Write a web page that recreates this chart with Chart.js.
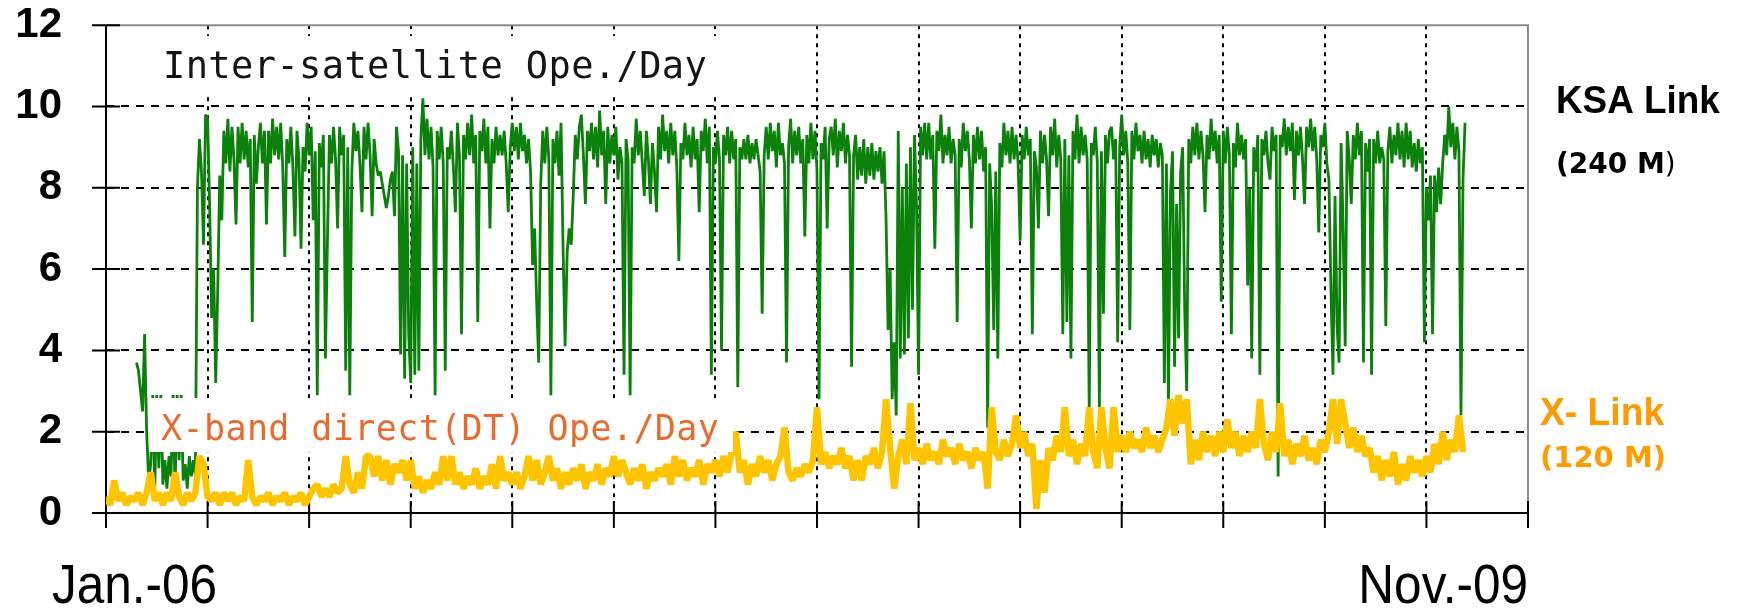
<!DOCTYPE html>
<html lang="en">
  <head>
    <meta charset="UTF-8" />
    <title>Inter-satellite and X-band operations per day</title>
    <script src="https://cdn.jsdelivr.net/npm/chart.js"></script>
    <style>
      html,
      body {
        margin: 0;
        padding: 0;
        background: #fff;
      }
      #opsChart {
        display: block;
      }
    </style>
  </head>
  <body>
    <canvas id="opsChart" width="1739" height="608"></canvas>
    <script>
      // x axis is in days counted from Jan. 2006, one tick every 100 days
      const dayMin = 0
      const dayMax = 1400
      const dayTickStep = 100
      const dateLabels = ['Jan.-06', 'Nov.-09']

      // y axis: operations per day
      const opsMin = 0
      const opsMax = 12
      const opsTickStep = 2

      const seriesNames = ['KSA Link', 'X- Link']
      const seriesRates = ['(240 M', '(120 M)']
      const noteLabels = ['Inter-satellite Ope./Day', 'X-band direct(DT) Ope./Day']

      // KSA (inter-satellite) link, one reading every 2 days from day 30
      const ksaStartDay = 30
      const ksaStepDays = 2
      const ksaOps = [
        3.7, 3.5, 3.0, 2.5, 4.4, 2.0, 0.8, 1.2, 2.9, 0.6, 2.9, 1.1, 2.9, 0.7, 1.3, 0.6, 1.4, 0.9, 2.9, 0.6, 2.9, 1.3, 2.9, 0.8, 1.2, 0.6, 1.4, 0.9, 1.3, 0.9,
        8.0, 9.2, 8.4, 6.6, 9.8, 9.7, 7.6, 4.8, 6.0, 3.2, 5.5, 8.3, 7.2, 9.4, 8.6, 9.7, 8.4, 9.5, 8.7, 7.1, 9.5, 8.6, 9.6, 8.7, 9.4, 8.5, 9.2, 4.7, 9.3, 8.1,
        9.0, 9.6, 8.6, 9.4, 7.1, 9.4, 8.6, 9.7, 8.8, 9.5, 8.7, 9.6, 8.5, 6.3, 9.2, 8.6, 9.5, 8.5, 6.8, 9.4, 8.7, 6.5, 9.0, 8.4, 9.6, 8.8, 9.5, 7.2, 8.9, 2.9,
        9.1, 8.5, 9.3, 3.8, 6.7, 9.3, 8.6, 9.5, 8.7, 7.0, 9.5, 8.8, 9.3, 3.5, 9.0, 2.9, 8.4, 9.6, 8.9, 9.4, 8.6, 7.4, 9.5, 8.7, 9.6, 8.8, 7.3, 9.2, 8.6, 8.3,
        8.4, 8.1, 7.8, 7.5, 7.8, 8.2, 8.4, 7.3, 9.5, 8.9, 3.9, 8.8, 3.3, 8.6, 4.4, 3.2, 9.0, 3.4, 8.6, 3.5, 9.2, 10.2, 8.8, 9.7, 8.7, 9.5, 8.5, 2.9, 9.4, 8.7,
        9.5, 8.6, 3.5, 9.0, 8.7, 9.4, 8.5, 7.4, 9.6, 8.8, 4.4, 9.3, 8.7, 9.6, 8.8, 9.8, 8.6, 9.3, 4.7, 9.4, 8.9, 9.7, 8.6, 9.5, 7.0, 9.2, 8.6, 9.5, 8.8, 9.3,
        8.8, 9.4, 8.6, 7.4, 9.0, 9.6, 8.9, 9.5, 8.7, 9.6, 8.9, 9.3, 8.6, 9.2, 8.4, 6.1, 7.0, 5.2, 3.7, 8.1, 9.4, 8.6, 9.5, 8.7, 2.9, 9.2, 8.6, 9.4, 8.3, 9.6,
        6.5, 4.1, 6.4, 7.0, 6.6, 7.8, 9.3, 8.7, 9.5, 9.8, 8.8, 7.6, 9.4, 8.9, 9.6, 8.7, 9.5, 8.5, 9.9, 8.8, 9.4, 7.6, 9.5, 8.6, 9.3, 8.8, 9.5, 8.2, 9.0, 8.6,
        3.4, 9.2, 8.7, 2.9, 9.0, 8.6, 9.7, 8.8, 9.4, 8.6, 7.8, 9.4, 8.7, 7.6, 9.1, 8.4, 7.4, 9.5, 8.7, 9.8, 8.9, 9.4, 8.6, 9.6, 8.8, 9.4, 8.5, 6.2, 9.1, 8.7,
        9.6, 8.8, 9.3, 8.5, 9.5, 8.7, 9.2, 7.4, 9.4, 8.9, 9.7, 8.6, 9.5, 3.4, 9.0, 8.6, 9.4, 8.7, 4.0, 9.3, 8.8, 9.5, 8.6, 9.4, 8.7, 9.2, 3.1, 9.0, 8.7, 9.2,
        8.7, 9.3, 8.6, 9.1, 8.7, 9.2, 8.8, 8.4, 4.9, 8.8, 9.5, 8.7, 9.6, 8.9, 9.4, 8.5, 9.6, 8.8, 9.1, 8.6, 3.7, 9.0, 9.7, 8.6, 9.4, 8.8, 9.5, 8.6, 9.2, 6.8,
        9.3, 8.6, 9.6, 8.7, 9.4, 8.4, 2.8, 9.1, 8.7, 9.5, 7.0, 9.2, 9.5, 8.8, 9.7, 8.5, 9.4, 8.9, 9.6, 8.6, 9.3, 8.8, 3.6, 8.8, 9.3, 8.2, 9.0, 8.3, 9.2, 8.1,
        9.0, 8.3, 9.1, 8.2, 8.9, 8.4, 9.0, 8.1, 8.9, 7.2, 4.5, 6.0, 2.8, 4.2, 2.4, 9.4, 3.8, 8.0, 3.9, 8.6, 4.3, 9.0, 5.0, 9.3, 7.5, 3.4, 9.5, 8.8, 9.6, 8.7,
        9.6, 8.7, 9.3, 6.5, 9.4, 8.9, 9.8, 8.6, 9.3, 8.8, 9.5, 8.6, 9.2, 8.8, 4.7, 9.2, 8.5, 9.6, 8.9, 9.4, 8.7, 7.0, 9.3, 8.6, 9.5, 8.7, 9.4, 8.4, 9.0, 2.1,
        8.6, 7.5, 4.5, 8.4, 3.8, 9.1, 8.5, 9.6, 8.8, 9.4, 8.6, 9.5, 8.7, 9.3, 8.6, 6.7, 9.3, 8.7, 9.5, 8.8, 9.2, 4.4, 8.9, 8.5, 7.0, 9.4, 8.6, 9.3, 8.7, 7.3,
        9.5, 8.8, 9.7, 8.5, 9.3, 8.7, 4.4, 9.2, 4.7, 8.8, 3.8, 9.4, 8.7, 9.8, 8.6, 9.5, 8.8, 9.3, 8.7, 2.5, 9.1, 8.8, 9.5, 8.6, 2.6, 8.9, 4.9, 9.3, 8.6, 9.4,
        9.5, 8.7, 9.2, 4.2, 9.0, 9.8, 8.8, 9.4, 8.6, 4.5, 9.4, 8.7, 9.6, 8.9, 9.3, 8.6, 9.4, 8.7, 9.2, 8.5, 9.3, 8.8, 9.2, 8.5, 9.1, 8.8, 3.2, 8.6, 2.6, 7.9,
        8.9, 3.6, 7.6, 4.3, 8.4, 9.0, 5.0, 3.0, 9.2, 8.6, 9.5, 8.8, 9.6, 8.7, 9.4, 8.8, 7.4, 9.3, 8.7, 9.7, 8.9, 9.4, 8.6, 9.3, 5.2, 9.4, 8.6, 9.5, 8.8, 4.4,
        9.1, 8.5, 9.6, 8.8, 9.3, 8.7, 9.2, 5.6, 8.0, 3.8, 9.0, 8.4, 9.3, 3.4, 9.2, 8.8, 9.4, 8.6, 8.2, 9.5, 8.9, 9.3, 0.9, 9.3, 9.0, 9.7, 8.8, 9.5, 8.9, 9.6,
        7.7, 9.4, 8.8, 9.5, 8.7, 7.6, 9.5, 9.0, 9.7, 8.9, 9.5, 8.7, 6.9, 9.3, 9.0, 9.6, 8.6, 8.2, 5.5, 3.4, 7.8, 4.6, 3.7, 9.1, 7.0, 4.1, 9.4, 8.7, 7.6, 9.3,
        8.7, 9.6, 8.8, 9.4, 3.7, 9.1, 8.4, 9.2, 3.4, 9.2, 8.6, 9.4, 8.6, 9.0, 8.7, 4.6, 8.9, 9.5, 8.6, 9.3, 8.8, 9.6, 8.7, 9.4, 8.5, 9.6, 8.7, 9.4, 8.5, 9.1,
        8.4, 9.2, 8.6, 9.0, 4.2, 8.0, 7.2, 8.3, 4.4, 8.3, 7.4, 8.5, 7.6, 8.6, 9.3, 8.8, 10.0, 9.0, 9.6, 8.7, 9.5, 8.9, 2.4, 8.2, 9.6
      ]

      // X-band direct link, one reading every 4 days from day 0
      const xbandStartDay = 0
      const xbandStepDays = 4
      const xbandOps = [
        0.4, 0.2, 0.8, 0.3, 0.5, 0.2, 0.4, 0.3, 0.5, 0.2, 0.5, 1.0, 0.3, 0.5, 0.2, 0.5, 0.3, 1.0, 0.4, 0.2, 0.5, 0.3, 0.5, 1.4, 1.2,
        0.4, 0.3, 0.5, 0.2, 0.5, 0.3, 0.5, 0.2, 0.4, 0.3, 1.3, 0.4, 0.2, 0.4, 0.3, 0.5, 0.2, 0.4, 0.3, 0.5, 0.2, 0.4, 0.3, 0.5, 0.2,
        0.4, 0.6, 0.7, 0.4, 0.6, 0.4, 0.7, 0.5, 0.6, 1.4, 0.7, 0.5, 1.0, 0.6, 1.4, 1.4, 0.9, 1.4, 0.8, 1.3, 0.7, 1.2, 1.0, 1.3, 0.8,
        1.3, 0.6, 0.9, 0.5, 0.8, 0.6, 1.0, 0.7, 1.4, 0.8, 1.4, 0.7, 1.0, 0.6, 0.9, 0.7, 1.1, 0.6, 0.9, 0.7, 1.2, 0.6, 1.4, 0.8, 1.0,
        0.7, 1.0, 0.6, 0.9, 1.4, 0.8, 1.3, 0.7, 1.0, 1.4, 0.8, 1.1, 0.6, 1.0, 0.7, 1.1, 0.8, 1.2, 0.6, 1.0, 0.8, 1.2, 0.7, 1.1, 0.9,
        1.4, 0.9, 1.3, 1.0, 0.7, 1.1, 0.8, 1.2, 0.6, 1.0, 0.8, 1.1, 0.9, 1.2, 0.7, 1.4, 0.9, 1.3, 0.8, 1.1, 0.9, 1.3, 0.7, 1.2, 1.0,
        1.3, 0.9, 1.4, 1.0, 1.5, 2.0, 1.0, 1.3, 0.7, 1.2, 0.9, 1.4, 1.0, 1.3, 0.8, 1.2, 1.4, 2.1, 1.0, 0.8, 1.1, 0.9, 1.2, 1.0, 1.3,
        2.6, 1.2, 1.5, 1.1, 1.4, 1.2, 1.6, 1.1, 1.4, 0.8, 1.3, 0.8, 1.4, 1.2, 1.6, 1.1, 1.5, 2.8, 1.6, 0.6, 1.4, 1.8, 1.2, 2.7, 1.3,
        1.6, 1.2, 1.7, 1.3, 1.5, 1.2, 1.8, 1.4, 1.6, 1.2, 1.7, 1.3, 1.5, 1.1, 1.6, 1.3, 1.5, 0.6, 2.6, 1.5, 1.3, 1.8, 1.4, 1.7, 2.4,
        1.6, 2.0, 1.4, 1.7, 0.1, 1.3, 0.5, 1.6, 1.3, 1.9, 1.5, 2.6, 1.4, 1.8, 1.2, 1.7, 1.4, 2.6, 1.5, 1.1, 2.6, 1.6, 1.1, 2.6, 1.5,
        1.9, 1.5, 2.0, 1.6, 1.8, 1.5, 2.1, 1.6, 1.9, 1.5, 1.8, 2.1, 2.8, 1.9, 2.9, 2.2, 2.8, 1.2, 1.8, 1.3, 2.0, 1.5, 1.9, 1.4, 2.0,
        1.5, 2.3, 1.6, 2.0, 1.4, 1.9, 1.5, 2.0, 1.6, 2.8, 1.7, 1.3, 2.0, 1.5, 2.7, 1.4, 1.8, 1.2, 1.7, 1.4, 1.9, 1.3, 1.6, 1.2, 1.8,
        1.5, 2.0, 2.8, 1.7, 2.8, 2.2, 1.6, 2.1, 1.5, 1.9, 1.4, 1.6, 1.0, 1.4, 0.8, 1.3, 0.9, 1.5, 0.7, 1.2, 0.8, 1.4, 1.0, 1.3, 0.9,
        1.4, 1.0, 1.7, 1.2, 2.0, 1.3, 1.8, 1.5, 2.4, 1.5
      ]

      const toPoints = (start, step, values) =>
        values.map((v, i) => ({ x: start + i * step, y: v }))

      // axis frame: grey top/right border, black axes and ticks crossing them
      const framePlugin = {
        id: 'frame',
        beforeDatasetsDraw(chart) {
          const { ctx, chartArea: a, scales } = chart
          ctx.save()
          ctx.lineWidth = 2
          ctx.strokeStyle = '#8a8a8a'
          ctx.beginPath()
          ctx.moveTo(a.left, a.top)
          ctx.lineTo(a.right, a.top)
          ctx.lineTo(a.right, a.bottom)
          ctx.stroke()

          ctx.strokeStyle = '#000'
          ctx.beginPath()
          ctx.moveTo(a.left, a.top)
          ctx.lineTo(a.left, a.bottom + 15)
          ctx.moveTo(a.left - 14, a.bottom)
          ctx.lineTo(a.right, a.bottom)
          scales.x.ticks.forEach(t => {
            const px = scales.x.getPixelForValue(t.value)
            ctx.moveTo(px, a.bottom - 12)
            ctx.lineTo(px, a.bottom + 15)
          })
          scales.y.ticks.forEach(t => {
            const py = scales.y.getPixelForValue(t.value)
            ctx.moveTo(a.left - 14, py)
            ctx.lineTo(a.left + 14, py)
          })
          ctx.stroke()
          ctx.restore()
        }
      }

      // text boxes inside the plot (white background hides the lines behind)
      const notesPlugin = {
        id: 'notes',
        afterDatasetsDraw(chart) {
          const ctx = chart.ctx
          const notes = [
            { text: noteLabels[0], x: 163, y: 78, box: [150, 36, 575, 58], font: '37px "DejaVu Sans Mono"', color: '#151515' },
            { text: noteLabels[1], x: 161, y: 440, box: [149, 398, 584, 54], font: '35px "DejaVu Sans Mono"', color: '#e96a2c' }
          ]
          ctx.save()
          notes.forEach(n => {
            ctx.fillStyle = '#fff'
            ctx.fillRect(n.box[0], n.box[1], n.box[2], n.box[3])
            ctx.font = n.font
            ctx.fillStyle = n.color
            ctx.textAlign = 'left'
            ctx.textBaseline = 'alphabetic'
            ctx.letterSpacing = '0.4px'
            ctx.fillText(n.text, n.x, n.y)
          })
          ctx.restore()
        }
      }

      // series names on the right and the start / end dates under the axis
      function drawText(ctx, text, x, y, font, color, align, sx) {
        ctx.save()
        ctx.translate(x, y)
        ctx.scale(sx || 1, 1)
        ctx.font = font
        ctx.fillStyle = color
        ctx.textAlign = align
        ctx.textBaseline = 'alphabetic'
        ctx.fillText(text, 0, 0)
        ctx.restore()
      }

      const sideLabelsPlugin = {
        id: 'sideLabels',
        afterDraw(chart) {
          const { ctx, scales } = chart
          const orange = '#ff9a00'
          drawText(ctx, seriesNames[0], 1556, 113, 'bold 38px "Liberation Sans"', '#000', 'left', 0.97)
          drawText(ctx, seriesRates[0], 1556, 173, 'bold 28px "DejaVu Sans"', '#000', 'left')
          ctx.save()
          ctx.font = 'bold 28px "DejaVu Sans"'
          const w = ctx.measureText(seriesRates[0]).width
          ctx.restore()
          drawText(ctx, ')', 1556 + w, 173, '28px "DejaVu Sans"', '#000', 'left')
          drawText(ctx, seriesNames[1], 1540, 425, 'bold 38px "Liberation Sans"', orange, 'left', 0.98)
          drawText(ctx, seriesRates[1], 1540, 467, 'bold 29px "DejaVu Sans"', orange, 'left')

          const endX = scales.x.getPixelForValue(dayMax)
          drawText(ctx, dateLabels[0], 52, 603, '55px "Liberation Sans"', '#000', 'left', 0.9)
          drawText(ctx, dateLabels[1], endX, 603, '55px "Liberation Sans"', '#000', 'right', 0.9)
        }
      }

      const edgeTick = (ctx, first, last) =>
        ctx.tick && (ctx.tick.value === first || ctx.tick.value === last)
          ? 'rgba(0,0,0,0)'
          : '#000'

      new Chart(document.getElementById('opsChart'), {
        type: 'line',
        data: {
          datasets: [
            {
              label: seriesNames[1],
              data: toPoints(xbandStartDay, xbandStepDays, xbandOps),
              borderColor: '#ffc400',
              borderWidth: 6.5
            },
            {
              label: seriesNames[0],
              data: toPoints(ksaStartDay, ksaStepDays, ksaOps),
              borderColor: '#0b810b',
              borderWidth: 2.8
            }
          ]
        },
        options: {
          responsive: false,
          animation: false,
          devicePixelRatio: 1,
          layout: { padding: { left: 0, right: 211, top: 25, bottom: 0 } },
          elements: {
            point: { radius: 0 },
            line: { tension: 0, borderJoinStyle: 'bevel' }
          },
          plugins: {
            legend: { display: false },
            tooltip: { enabled: false }
          },
          scales: {
            x: {
              type: 'linear',
              min: dayMin,
              max: dayMax,
              ticks: { stepSize: dayTickStep, display: false },
              grid: {
                color: c => edgeTick(c, dayMin, dayMax),
                lineWidth: 2,
                drawTicks: false
              },
              border: { display: false, dash: [4, 5] },
              afterFit: s => {
                s.height = 95
              }
            },
            y: {
              min: opsMin,
              max: opsMax,
              ticks: {
                stepSize: opsTickStep,
                autoSkip: false,
                padding: 0,
                color: '#000',
                font: { family: 'Liberation Sans', size: 42, weight: 'bold' }
              },
              grid: {
                color: c => edgeTick(c, opsMin, opsMax),
                lineWidth: 2,
                drawTicks: true,
                tickLength: 44,
                tickColor: 'rgba(0,0,0,0)'
              },
              border: { display: false, dash: [8, 7] },
              afterFit: s => {
                s.width = 106
              }
            }
          }
        },
        plugins: [framePlugin, notesPlugin, sideLabelsPlugin]
      })
    </script>
  </body>
</html>
